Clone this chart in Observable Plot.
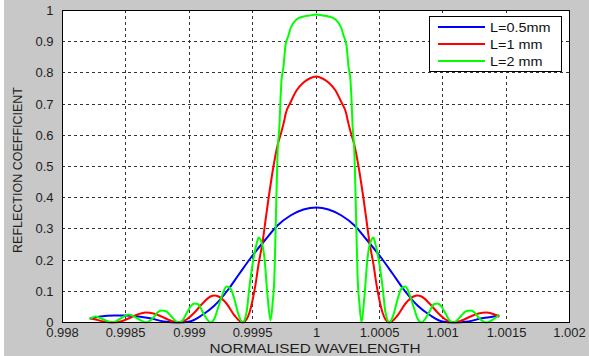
<!DOCTYPE html>
<html><head><meta charset="utf-8">
<script src="https://cdn.jsdelivr.net/npm/d3@7"></script>
<script src="https://cdn.jsdelivr.net/npm/@observablehq/plot@0.6"></script>
<style>html,body{margin:0;padding:0;background:#fff;overflow:hidden}</style>
</head><body><div id="chart"></div>
<script>
const seriesNames = ["L=0.5mm", "L=1 mm", "L=2 mm"];
const seriesColors = ["#0000ff", "#ff0000", "#00ff00"];

const blueX = [0.99822, 0.9983, 0.9984, 0.9985, 0.9986, 0.9987, 0.9988, 0.998914, 0.999, 0.9991, 0.9992, 0.9993, 0.9994, 0.9995, 0.9996, 0.9997, 0.9998, 0.9999, 1, 1.0001, 1.0002, 1.0003, 1.0004, 1.0005, 1.0006, 1.0007, 1.0008, 1.0009, 1.001, 1.001086, 1.0012, 1.0013, 1.0014, 1.00144];
const blueY = [0.0135, 0.0181, 0.0221, 0.0227, 0.0193, 0.0124, 0.0047, 0, 0.0040, 0.0212, 0.0542, 0.1010, 0.1565, 0.2138, 0.2666, 0.3104, 0.3428, 0.3625, 0.3691, 0.3625, 0.3428, 0.3104, 0.2666, 0.2138, 0.1565, 0.1010, 0.0542, 0.0212, 0.0040, 0, 0.0047, 0.0124, 0.0193, 0.0211];

const redX = [0.99822, 0.998262, 0.998327, 0.998393, 0.998458, 0.998524, 0.998589, 0.998654, 0.998719, 0.998784, 0.998849, 0.998914, 0.998979, 0.999043, 0.999107, 0.99917, 0.999202, 0.999234, 0.999296, 0.999358, 0.999419, 0.99945, 0.999475, 0.9995, 0.999525, 0.99955, 0.999575, 0.9996, 0.999625, 0.99965, 0.999675, 0.9997, 0.999725, 0.99975, 0.999762, 0.9998, 0.99985, 0.9999, 0.99995, 1, 1.00005, 1.0001, 1.00015, 1.0002, 1.000238, 1.00025, 1.000275, 1.0003, 1.000325, 1.00035, 1.000375, 1.0004, 1.000425, 1.00045, 1.000475, 1.0005, 1.000525, 1.00055, 1.000581, 1.000642, 1.000704, 1.000766, 1.000798, 1.00083, 1.000893, 1.000957, 1.001021, 1.001086, 1.001151, 1.001216, 1.001281, 1.001346, 1.001411, 1.00144];
const redY = [0.0133, 0.0094, 0.0030, 0, 0.0036, 0.0131, 0.0243, 0.0312, 0.0296, 0.0195, 0.0065, 0, 0.0083, 0.0318, 0.0611, 0.0822, 0.0857, 0.0834, 0.0606, 0.0228, 0, 0.0091, 0.032, 0.0702, 0.1226, 0.186, 0.2557, 0.3273, 0.3966, 0.4609, 0.5186, 0.5689, 0.6126, 0.6495, 0.6653, 0.7063, 0.7448, 0.7695, 0.7832, 0.7876, 0.7832, 0.7695, 0.7448, 0.7063, 0.6653, 0.6495, 0.6126, 0.5689, 0.5186, 0.4609, 0.3966, 0.3273, 0.2557, 0.186, 0.1226, 0.0702, 0.032, 0.0091, 0, 0.0228, 0.0606, 0.0834, 0.0857, 0.0822, 0.0611, 0.0318, 0.0083, 0, 0.0065, 0.0195, 0.0296, 0.0312, 0.0243, 0.0195];

const greenX = [0.99822, 0.998262, 0.998327, 0.998393, 0.998458, 0.998524, 0.998589, 0.998654, 0.998719, 0.998752, 0.998784, 0.998817, 0.998849, 0.998914, 0.998946, 0.998979, 0.999011, 0.999043, 0.999075, 0.999107, 0.999139, 0.99917, 0.999202, 0.999234, 0.999265, 0.999296, 0.999327, 0.999358, 0.999389, 0.999419, 0.999449, 0.999479, 0.999508, 0.999537, 0.99955, 0.999565, 0.999592, 0.999619, 0.999644, 0.99966, 0.99967, 0.99968, 0.99969, 0.9997, 0.99971, 0.99972, 0.99973, 0.99974, 0.99975, 0.999762, 0.99978, 0.9998, 0.99985, 0.9999, 0.99995, 1, 1.00005, 1.0001, 1.00015, 1.0002, 1.00022, 1.000238, 1.00025, 1.00026, 1.00027, 1.00028, 1.00029, 1.0003, 1.00031, 1.00032, 1.00033, 1.00034, 1.000356, 1.000381, 1.000408, 1.000435, 1.00045, 1.000463, 1.000492, 1.000521, 1.000551, 1.000581, 1.000611, 1.000642, 1.000673, 1.000704, 1.000735, 1.000766, 1.000798, 1.00083, 1.000861, 1.000893, 1.000925, 1.000957, 1.000989, 1.001021, 1.001054, 1.001086, 1.001151, 1.001183, 1.001216, 1.001248, 1.001281, 1.001346, 1.001411, 1.00144];
const greenY = [0.0138, 0.0187, 0.0102, 0, 0.0120, 0.0259, 0.0144, 0, 0.0175, 0.0312, 0.0383, 0.0347, 0.0218, 0, 0.0078, 0.0278, 0.0497, 0.0617, 0.0569, 0.0367, 0.0119, 0, 0.0141, 0.0506, 0.0908, 0.1142, 0.1087, 0.0737, 0.0255, 0, 0.0325, 0.1163, 0.2066, 0.2637, 0.2726, 0.2667, 0.205, 0.0853, 0.008, 0.0592, 0.1566, 0.283, 0.4151, 0.5356, 0.6353, 0.7143, 0.775, 0.8212, 0.8564, 0.8883, 0.9199, 0.9425, 0.9699, 0.9804, 0.9847, 0.9859, 0.9847, 0.9804, 0.9699, 0.9425, 0.9199, 0.8883, 0.8564, 0.8212, 0.775, 0.7143, 0.6353, 0.5356, 0.4151, 0.283, 0.1566, 0.0592, 0, 0.0853, 0.205, 0.2667, 0.2726, 0.2637, 0.2066, 0.1163, 0.0325, 0, 0.0255, 0.0737, 0.1087, 0.1142, 0.0908, 0.0506, 0.0141, 0, 0.0119, 0.0367, 0.0569, 0.0617, 0.0497, 0.0278, 0.0078, 0, 0.0218, 0.0347, 0.0383, 0.0312, 0.0175, 0, 0.0144, 0.0225];

const xTicks = [0.998, 0.9985, 0.999, 0.9995, 1, 1.0005, 1.001, 1.0015, 1.002];
const xTickLabels = ["0.998", "0.9985", "0.999", "0.9995", "1", "1.0005", "1.001", "1.0015", "1.002"];
const yTicks = [0, 0.1, 0.2, 0.3, 0.4, 0.5, 0.6, 0.7, 0.8, 0.9, 1];
const yTickLabels = ["0", "0.1", "0.2", "0.3", "0.4", "0.5", "0.6", "0.7", "0.8", "0.9", "1"];
const xTitle = "NORMALISED WAVELENGTH";
const yTitle = "REFLECTION COEFFICIENT";

const rows = [];
[[blueX, blueY], [redX, redY], [greenX, greenY]].forEach(([xs, ys], s) =>
  xs.forEach((x, i) => rows.push({series: seriesNames[s], x, y: ys[i]})));

const xMap = new Map(xTicks.map((t, i) => [t, xTickLabels[i]]));
const yMap = new Map(yTicks.map((t, i) => [t, yTickLabels[i]]));

const chart = Plot.plot({
  width: 589, height: 356,
  marginLeft: 62, marginRight: 20, marginTop: 10, marginBottom: 34,
  style: {background: "#c8c8c8", fontFamily: "'Liberation Sans', Arial, sans-serif", fontSize: "13px", color: "#1e1e1e"},
  x: {domain: [0.998, 1.002], ticks: xTicks, tickFormat: d => xMap.get(d), tickSize: 0, tickPadding: 5, label: null, round: true},
  y: {domain: [0, 1], ticks: yTicks, tickFormat: d => yMap.get(d), tickSize: 0, tickPadding: 9, label: null, round: true},
  color: {domain: seriesNames, range: seriesColors},
  marks: [
    Plot.frame({fill: "white", stroke: "none"}),
    Plot.ruleX(xTicks, {stroke: "#333", strokeDasharray: "3,3"}),
    Plot.ruleY(yTicks, {stroke: "#333", strokeDasharray: "3,3"}),
    Plot.line(rows, {x: "x", y: "y", z: "series", stroke: "series", strokeWidth: 2, curve: "monotone-x"}),
    Plot.frame({stroke: "#000"})
  ]
});
document.getElementById("chart").appendChild(chart);

const svg = d3.select(chart);
svg.insert("rect", ":first-child").attr("x", 0).attr("y", 0).attr("width", 4).attr("height", 356).attr("fill", "#fff");

function stretch(sel, len) {
  sel.attr("textLength", len).attr("lengthAdjust", "spacingAndGlyphs");
}

const xt = svg.append("text").attr("x", 315).attr("y", 353).attr("text-anchor", "middle")
  .attr("font-size", 13).attr("fill", "#1e1e1e").text(xTitle);
stretch(xt, 211);

svg.append("text").attr("transform", "translate(21.5,170) rotate(-90)").attr("text-anchor", "middle")
  .attr("font-size", 12.5).attr("fill", "#1e1e1e").text(yTitle);

const lg = svg.append("g");
lg.append("rect").attr("x", 429.5).attr("y", 16.5).attr("width", 132).attr("height", 55)
  .attr("fill", "#fff").attr("stroke", "#000");
seriesNames.forEach((n, i) => {
  const yy = 27 + i * 17;
  lg.append("line").attr("x1", 438).attr("x2", 485).attr("y1", yy).attr("y2", yy)
    .attr("stroke", seriesColors[i]).attr("stroke-width", 2);
  const t = lg.append("text").attr("x", 490).attr("y", yy + 4.5).attr("font-size", 12)
    .attr("text-anchor", "start").attr("fill", "#111").text(n);
  const w = t.node().getComputedTextLength();
  stretch(t, w * 1.2);
});
</script>
</body></html>
